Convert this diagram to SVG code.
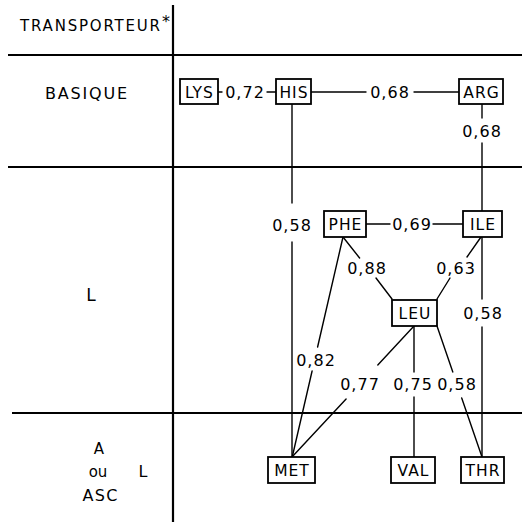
<svg xmlns="http://www.w3.org/2000/svg" width="522" height="524" viewBox="0 0 522 524">
<style>
.grid{stroke:#000;stroke-width:2.2;fill:none}
.c{stroke:#000;stroke-width:1.4;fill:none;stroke-linecap:round}
.box{fill:#fff;stroke:#000;stroke-width:1.8}
.t{font-family:"DejaVu Sans","Liberation Sans",sans-serif;fill:#000;font-size:15.5px;letter-spacing:1px;text-anchor:middle}
.n{font-family:"DejaVu Sans","Liberation Sans",sans-serif;fill:#000;font-size:16px;letter-spacing:1px;text-anchor:middle}
.h{font-family:"DejaVu Sans","Liberation Sans",sans-serif;fill:#000;text-anchor:middle}
</style>
<rect width="522" height="524" fill="#fff"/>
<g id="grid">
<line class="grid" x1="173" y1="5" x2="173" y2="522"/>
<line class="grid" x1="8" y1="55" x2="522" y2="55"/>
<line class="grid" x1="8" y1="167" x2="522" y2="167"/>
<line class="grid" x1="12" y1="413" x2="522" y2="413"/>
</g>
<g id="row-labels">
<text class="h" x="20" y="31" font-size="15" textLength="140" lengthAdjust="spacing" style="text-anchor:start">TRANSPORTEUR</text>
<text class="h" x="166" y="27" font-size="16">*</text>
<text class="h" x="86" y="99" font-size="16" textLength="82" lengthAdjust="spacing">BASIQUE</text>
<text class="h" x="91" y="301" font-size="17">L</text>
<text class="h" x="99" y="454" font-size="15">A</text>
<text class="h" x="98" y="477" font-size="15">ou</text>
<text class="h" x="143" y="477" font-size="16">L</text>
<text class="h" x="100" y="501" font-size="16" textLength="35" lengthAdjust="spacing">ASC</text>
</g>
<g id="connectors">
<line class="c" x1="218" y1="92" x2="222" y2="92"/>
<line class="c" x1="267" y1="92" x2="276" y2="92"/>
<line class="c" x1="311" y1="92" x2="366" y2="92"/>
<line class="c" x1="414" y1="92" x2="459" y2="92"/>
<line class="c" x1="482" y1="104" x2="482" y2="118"/>
<line class="c" x1="482" y1="143" x2="482" y2="211"/>
<line class="c" x1="482" y1="237" x2="482" y2="299"/>
<line class="c" x1="482" y1="327" x2="482" y2="457"/>
<line class="c" x1="292" y1="104" x2="292" y2="203"/>
<line class="c" x1="292" y1="242" x2="292" y2="457"/>
<line class="c" x1="366" y1="224" x2="390" y2="224"/>
<line class="c" x1="433" y1="224" x2="463" y2="224"/>
<line class="c" x1="343" y1="237" x2="359.6" y2="258"/>
<line class="c" x1="376" y1="278" x2="392" y2="299"/>
<line class="c" x1="481" y1="237" x2="467" y2="257"/>
<line class="c" x1="450" y1="278" x2="437" y2="299"/>
<line class="c" x1="343" y1="237" x2="317.6" y2="347"/>
<line class="c" x1="312.1" y1="371" x2="292" y2="458"/>
<line class="c" x1="414" y1="326" x2="377.8" y2="365"/>
<line class="c" x1="346.1" y1="399" x2="292" y2="457"/>
<line class="c" x1="414" y1="326" x2="414" y2="372"/>
<line class="c" x1="414" y1="397" x2="414" y2="457"/>
<line class="c" x1="437" y1="326" x2="452.8" y2="372"/>
<line class="c" x1="461.7" y1="398" x2="482" y2="457"/>
</g>
<g id="edge-labels">
<text class="n" x="245" y="98">0,72</text>
<text class="n" x="390" y="98">0,68</text>
<text class="n" x="482" y="137">0,68</text>
<text class="n" x="292" y="231">0,58</text>
<text class="n" x="412" y="230">0,69</text>
<text class="n" x="367" y="274">0,88</text>
<text class="n" x="456" y="274">0,63</text>
<text class="n" x="483" y="319">0,58</text>
<text class="n" x="316" y="366">0,82</text>
<text class="n" x="360" y="390">0,77</text>
<text class="n" x="413" y="390">0,75</text>
<text class="n" x="457" y="390">0,58</text>
</g>
<g id="LYS"><rect class="box" x="180" y="79" width="38" height="25"/><text class="t" x="199.5" y="97.5">LYS</text></g>
<g id="HIS"><rect class="box" x="276" y="79" width="35" height="25"/><text class="t" x="294" y="97.5">HIS</text></g>
<g id="ARG"><rect class="box" x="459" y="79" width="44" height="25"/><text class="t" x="481.5" y="97.5">ARG</text></g>
<g id="PHE"><rect class="box" x="324" y="211" width="42" height="26"/><text class="t" x="345.5" y="230">PHE</text></g>
<g id="ILE"><rect class="box" x="463" y="211" width="39" height="26"/><text class="t" x="483" y="230">ILE</text></g>
<g id="LEU"><rect class="box" x="392" y="300" width="45" height="26"/><text class="t" x="415" y="319">LEU</text></g>
<g id="MET"><rect class="box" x="268" y="457" width="47" height="26"/><text class="t" x="292" y="476">MET</text></g>
<g id="VAL"><rect class="box" x="391" y="457" width="44" height="26"/><text class="t" x="413.5" y="476">VAL</text></g>
<g id="THR"><rect class="box" x="461" y="457" width="43" height="26"/><text class="t" x="483" y="476">THR</text></g>
</svg>
